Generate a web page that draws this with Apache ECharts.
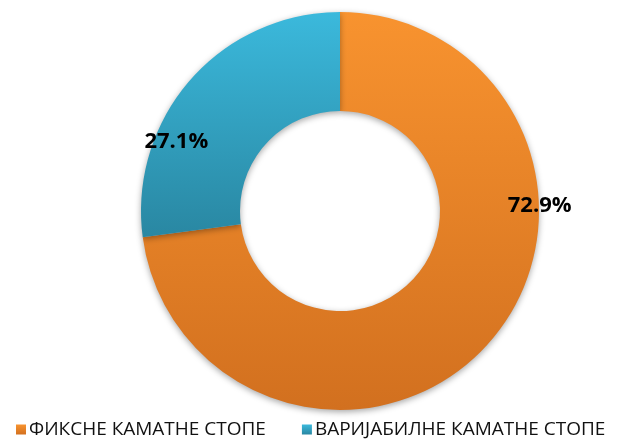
<!DOCTYPE html>
<html>
<head>
<meta charset="utf-8">
<script src="https://cdn.jsdelivr.net/npm/echarts@6/dist/echarts.min.js"></script>
<style>
  html, body { margin: 0; padding: 0; background: #ffffff; }
  #chart { width: 619px; height: 440px; }
</style>
</head>
<body>
<div id="chart"></div>
<script>
// Interest rate structure: fixed vs variable
const categories = ['ФИКСНЕ КАМАТНЕ СТОПЕ', 'ВАРИЈАБИЛНЕ КАМАТНЕ СТОПЕ'];
const shares = [72.9, 27.1];
const labelOffsets = [[85, -106], [-49, 31]];
const gradients = [
  ['#F8932F', '#D2701F'],
  ['#3BB9DC', '#2987A2']
];

const chart = echarts.init(document.getElementById('chart'), null, { renderer: 'canvas' });

const data = categories.map((name, i) => ({
  name: name,
  value: shares[i],
  itemStyle: {
    color: new echarts.graphic.LinearGradient(0, 0, 0, 1, [
      { offset: 0, color: gradients[i][0] },
      { offset: 1, color: gradients[i][1] }
    ])
  },
  label: { offset: labelOffsets[i] }
}));

chart.setOption({
  animation: false,
  legend: {
    data: categories.map((name, i) => ({
      name: name,
      itemStyle: {
        color: new echarts.graphic.LinearGradient(0, 0, 0, 1, [
          { offset: 0, color: gradients[i][0] },
          { offset: 1, color: gradients[i][1] }
        ])
      }
    })),
    left: 11,
    top: 415,
    itemWidth: 10,
    itemHeight: 10,
    itemGap: 36,
    icon: 'rect',
    textStyle: {
      fontFamily: '"Open Sans", sans-serif',
      fontSize: 19,
      color: '#111111',
      padding: [0, 0, 0, -2]
    }
  },
  series: [{
    type: 'pie',
    center: [340, 211],
    radius: [100, 199],
    startAngle: 90,
    clockwise: true,
    data: data,
    itemStyle: {
      shadowColor: 'rgba(0,0,0,0.35)',
      shadowBlur: 6,
      shadowOffsetY: 2
    },
    label: {
      show: true,
      position: 'inside',
      formatter: (p) => p.value.toFixed(1) + '%',
      fontFamily: '"Open Sans", sans-serif',
      fontWeight: 'bold',
      fontSize: 22,
      color: '#000000'
    },
    labelLine: { show: false },
    emphasis: { disabled: true }
  }]
});
</script>
</body>
</html>
